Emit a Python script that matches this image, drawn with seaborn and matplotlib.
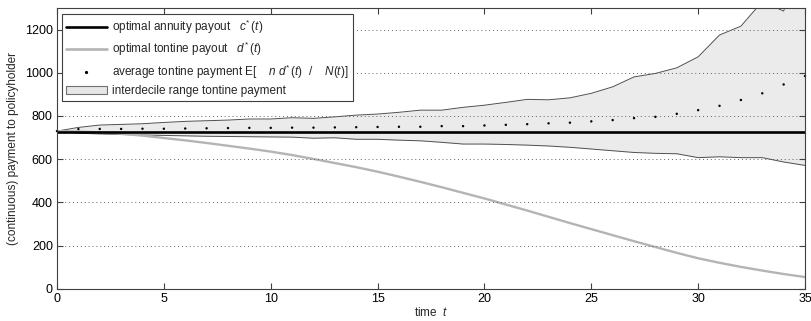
import numpy as np
import pandas as pd
import matplotlib
matplotlib.use("Agg")
import matplotlib.pyplot as plt
import seaborn as sns
from matplotlib.lines import Line2D
from matplotlib.patches import Patch

# values, one per year t = 0..35
years = list(range(36))
annuity = [726] * 36
tontine = [730, 728, 724, 718, 709, 698, 687, 675, 662, 649,
           635, 619, 601, 582, 563, 542, 519, 495, 470, 444,
           418, 390, 362, 333, 304, 276, 248, 220, 193, 166,
           141, 120, 101, 84, 68, 54]
avg_payment = [730, 739, 740, 740, 741, 741, 742, 743, 744, 745,
               745, 746, 746, 747, 748, 749, 750, 750, 753, 753,
               756, 759, 762, 766, 769, 775, 781, 790, 796, 810,
               827, 847, 874, 905, 946, 985]
upper_decile = [730, 747, 758, 761, 764, 770, 775, 778, 781, 786,
                786, 792, 789, 796, 804, 809, 817, 827, 827, 840,
                850, 863, 877, 875, 884, 905, 935, 981, 997, 1023,
                1074, 1175, 1216, 1330, 1286, 1600]
lower_decile = [730, 720, 717, 714, 712, 710, 708, 706, 705, 704,
                703, 702, 697, 699, 692, 692, 688, 685, 678, 670,
                670, 668, 665, 661, 655, 647, 639, 631, 627, 625,
                607, 611, 607, 607, 587, 571]

df = pd.DataFrame({"t": years, "annuity": annuity, "tontine": tontine,
                   "avg": avg_payment, "hi": upper_decile, "lo": lower_decile})

sns.set_theme(style="white")
plt.rcParams["font.family"] = ["Liberation Sans", "DejaVu Sans"]
plt.rcParams["mathtext.fontset"] = "custom"
plt.rcParams["mathtext.rm"] = "Liberation Sans"
plt.rcParams["mathtext.it"] = "Liberation Sans:italic"

fig = plt.figure(figsize=(8.12, 3.21), dpi=100)
ax = fig.add_axes([0.0702, 0.1006, 0.9212, 0.8744])

# interdecile band
ax.fill_between(df["t"], df["lo"], df["hi"], color="#ebebeb", lw=0)
sns.lineplot(data=df, x="t", y="hi", ax=ax, color="#505050", lw=0.7)
sns.lineplot(data=df, x="t", y="lo", ax=ax, color="#505050", lw=0.7)

sns.lineplot(data=df, x="t", y="tontine", ax=ax, color="#b4b4b4", lw=1.7)
sns.lineplot(data=df, x="t", y="annuity", ax=ax, color="black", lw=1.9)
sns.scatterplot(data=df, x="t", y="avg", ax=ax, color="black", s=3,
                marker="o", edgecolor="none", clip_on=False)

ax.set_xlim(0, 35)
ax.set_ylim(0, 1300)
ax.set_xticks(range(0, 36, 5))
ax.set_yticks(range(0, 1201, 200))
ax.yaxis.grid(True, linestyle=(0, (1, 3)), color="#606060", lw=0.7)
ax.xaxis.grid(False)
ax.set_axisbelow(False)
ax.tick_params(direction="in", length=4, width=0.8, colors="#404040",
               labelcolor="black", labelsize=9, top=True, right=True,
               bottom=True, left=True, pad=3)
for sp in ax.spines.values():
    sp.set_color("#404040")
    sp.set_linewidth(0.8)

ax.set_xlabel("time  $t$", fontsize=8.5, labelpad=1)
ax.set_ylabel("(continuous) payment to policyholder", fontsize=8.5, labelpad=4)

handles = [
    Line2D([], [], color="black", lw=1.9),
    Line2D([], [], color="#b4b4b4", lw=1.9),
    Line2D([], [], color="black", lw=0, marker="o", markersize=1.3),
    Patch(facecolor="#e6e6e6", edgecolor="#707070", lw=0.8),
]
labels = [
    r"optimal annuity payout   $c^{*}\,(t)$",
    r"optimal tontine payout   $d^{*}\,(t)$",
    r"average tontine payment E[    $n\;d^{*}\,(t)$  /    $N(t)$]",
    "interdecile range tontine payment",
]
leg = ax.legend(handles, labels, loc="upper left", bbox_to_anchor=(0.007, 0.98),
                fontsize=8.5, frameon=True, fancybox=False, framealpha=1,
                edgecolor="#404040", handlelength=3.4, handletextpad=0.5,
                borderpad=0.35, labelspacing=0.35, borderaxespad=0)
leg.get_frame().set_linewidth(0.8)

fig.savefig("out.png", dpi=100)
